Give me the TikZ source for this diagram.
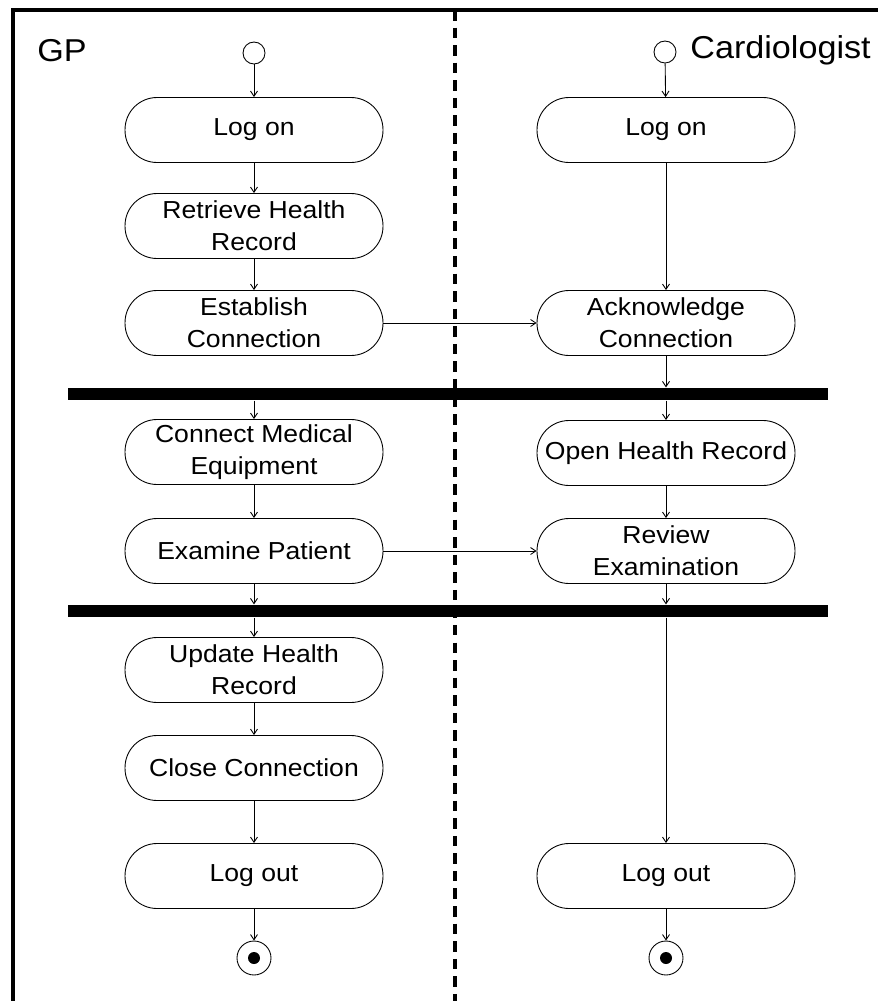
\documentclass[tikz,border=0pt]{standalone}
\usepackage{fontspec}
\setmainfont[FakeStretch=1.08]{Liberation Sans}
\usetikzlibrary{arrows.meta}

\tikzset{
  act/.style={rectangle, draw, rounded corners=0.64cm, line width=0.5pt,
    minimum width=5.16cm, minimum height=1.3cm, inner sep=1pt, align=center,
    font=\fontsize{14}{18}\selectfont},
  bar/.style={rectangle, fill=black, minimum width=15.2cm, minimum height=0.25cm, inner sep=0pt},
  startdot/.style={circle, draw, line width=0.5pt, minimum size=0.44cm, inner sep=0pt},
  enddot/.style={circle, draw, line width=0.5pt, minimum size=0.68cm, inner sep=0pt,
    path picture={\fill (path picture bounding box.center) circle (0.12cm);}},
  flow/.style={-{Straight Barb[length=3pt,width=4pt]}, line width=0.5pt},
  lane/.style={font=\fontsize{18}{20}\selectfont, inner sep=0pt, anchor=base west}
}

\begin{document}
\begin{tikzpicture}[x=0.02cm, y=-0.02cm]
\useasboundingbox (0,0) rectangle (878,1001);

% swimlanes
\draw[line width=2.2pt] (13,1001) -- (13,10) -- (878,10);
\draw[line width=2.2pt, dash pattern=on 6pt off 4pt] (455,10) -- (455,1001);
\node[lane] (gp) at (37,61) {GP};
\node[lane] (cardio) at (690,58) {Cardiologist};

% GP
\node[startdot] (startL) at (254,53) {};
\node[act] (logonL) at (254,130) {Log on};
\node[act] (retrieve) at (254,226) {Retrieve Health\\Record};
\node[act] (establish) at (254,323) {Establish\\Connection};
\node[bar] (bar1) at (448,394) {};
\node[act] (connect) at (254,452) {Connect Medical\\Equipment};
\node[act] (examine) at (254,551) {Examine Patient};
\node[bar] (bar2) at (448,611) {};
\node[act] (update) at (254,670) {Update Health\\Record};
\node[act] (close) at (254,768) {Close Connection};
\node[act] (logoutL) at (254,876) {Log out};
\node[enddot] (endL) at (254,958) {};

% Cardiologist
\node[startdot] (startR) at (665,52) {};
\node[act] (logonR) at (666,130) {Log on};
\node[act] (acknowledge) at (666,323) {Acknowledge\\Connection};
\node[act] (openrec) at (666,453) {Open Health Record};
\node[act] (review) at (666,551) {Review\\Examination};
\node[act] (logoutR) at (666,876) {Log out};
\node[enddot] (endR) at (666,958) {};

% flows
\draw[flow] (startL) -- (logonL);
\draw[flow] (logonL) -- (retrieve);
\draw[flow] (retrieve) -- (establish);
\draw[flow] (establish) -- (acknowledge);
\draw[flow] (connect |- bar1.south) -- (connect);
\draw[flow] (connect) -- (examine);
\draw[flow] (examine) -- (review);
\draw[flow] (examine) -- (examine |- bar2.north);
\draw[flow] (update |- bar2.south) -- (update);
\draw[flow] (update) -- (close);
\draw[flow] (close) -- (logoutL);
\draw[flow] (logoutL) -- (endL);

\draw[flow] (startR) -- (logonR);
\draw[flow] (logonR) -- (acknowledge);
\draw[flow] (acknowledge) -- (acknowledge |- bar1.north);
\draw[flow] (openrec |- bar1.south) -- (openrec);
\draw[flow] (openrec) -- (review);
\draw[flow] (review) -- (review |- bar2.north);
\draw[flow] (logoutR |- bar2.south) -- (logoutR);
\draw[flow] (logoutR) -- (endR);

\end{tikzpicture}
\end{document}
